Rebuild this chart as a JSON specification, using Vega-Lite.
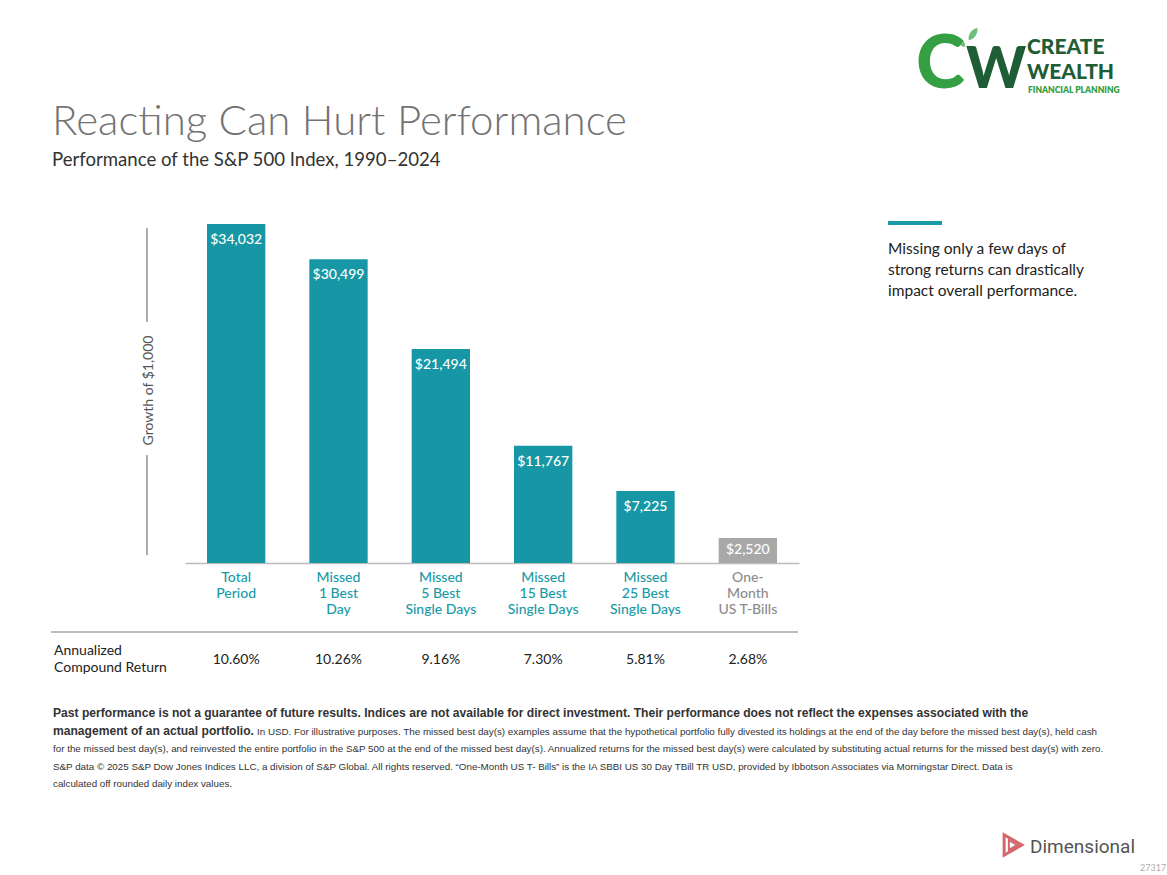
{
  "$schema": "https://vega.github.io/schema/vega-lite/v6.json",
  "autosize": "none",
  "width": 614,
  "height": 353,
  "padding": {"left": 185, "top": 210, "right": 368, "bottom": 312},
  "background": "white",
  "config": {"view": {"stroke": null}, "font": "Lato"},
  "data": {
    "values": [
      {"category": "Total\nPeriod", "value": 34032, "ret": "10.60%", "kind": "stocks"},
      {"category": "Missed\n1 Best\nDay", "value": 30499, "ret": "10.26%", "kind": "stocks"},
      {"category": "Missed\n5 Best\nSingle Days", "value": 21494, "ret": "9.16%", "kind": "stocks"},
      {"category": "Missed\n15 Best\nSingle Days", "value": 11767, "ret": "7.30%", "kind": "stocks"},
      {"category": "Missed\n25 Best\nSingle Days", "value": 7225, "ret": "5.81%", "kind": "stocks"},
      {"category": "One-\nMonth\nUS T-Bills", "value": 2520, "ret": "2.68%", "kind": "tbills"}
    ]
  },
  "layer": [
    {
      "mark": {"type": "bar"},
      "encoding": {
        "x": {
          "field": "category", "type": "nominal", "sort": null,
          "scale": {"paddingInner": 0.43, "paddingOuter": 0.215},
          "axis": {
            "title": null, "labelAngle": 0, "ticks": false,
            "domainColor": "#bdbdbd", "domainWidth": 1.5,
            "labelPadding": 7, "labelFont": "Lato", "labelFontSize": 14,
            "labelFontWeight": 500, "labelLineHeight": 16, "labelBaseline": "top",
            "labelExpr": "split(datum.value, '\\n')",
            "labelColor": {"condition": {"test": "indexof(datum.value, 'T-Bills') >= 0", "value": "#8c8c8c"}, "value": "#1a9aa6"}
          }
        },
        "y": {
          "field": "value", "type": "quantitative",
          "scale": {"domain": [0, 35440], "nice": false},
          "axis": {
            "title": "Growth of $1,000", "labels": false, "ticks": false, "domain": false, "grid": false,
            "titleX": -37, "titleY": 180, "titleBaseline": "middle", "titleAngle": -90,
            "titleFont": "Lato", "titleFontSize": 14, "titleFontWeight": 400, "titleColor": "#555555"
          }
        },
        "color": {
          "condition": {"test": "datum.kind === 'tbills'", "value": "#a8a8a8"},
          "value": "#1797a5"
        }
      }
    },
    {
      "transform": [{"filter": "datum.kind === 'stocks'"}],
      "mark": {"type": "text", "baseline": "middle", "dy": 16, "color": "white", "fontSize": 14, "fontWeight": 500, "font": "Lato"},
      "encoding": {
        "x": {"field": "category", "type": "nominal", "sort": null},
        "y": {"field": "value", "type": "quantitative"},
        "text": {"field": "value", "type": "quantitative", "format": "$,.0f"}
      }
    },
    {
      "transform": [{"filter": "datum.kind === 'tbills'"}],
      "mark": {"type": "text", "baseline": "middle", "dy": 12, "color": "white", "fontSize": 14, "fontWeight": 500, "font": "Lato"},
      "encoding": {
        "x": {"field": "category", "type": "nominal", "sort": null},
        "y": {"field": "value", "type": "quantitative"},
        "text": {"field": "value", "type": "quantitative", "format": "$,.0f"}
      }
    },
    {
      "mark": {"type": "text", "baseline": "middle", "fontSize": 14, "font": "Lato", "color": "#222222"},
      "encoding": {
        "x": {"field": "category", "type": "nominal", "sort": null},
        "y": {"value": 450},
        "text": {"field": "ret", "type": "nominal"}
      }
    },
    {
      "data": {"values": [{}]},
      "mark": {"type": "text", "align": "left", "baseline": "alphabetic", "fontSize": 42, "font": "Lato", "fontWeight": 300, "color": "#737373"},
      "encoding": {"x": {"value": -133}, "y": {"value": -75}, "text": {"value": "Reacting Can Hurt Performance"}}
    },
    {
      "data": {"values": [{}]},
      "mark": {"type": "text", "align": "left", "baseline": "alphabetic", "fontSize": 18.6, "font": "Lato", "fontWeight": 400, "color": "#333333"},
      "encoding": {"x": {"value": -133}, "y": {"value": -44}, "text": {"value": "Performance of the S&P 500 Index, 1990\u20132024"}}
    },
    {
      "data": {"values": [{}]},
      "mark": {"type": "text", "align": "left", "baseline": "alphabetic", "fontSize": 14, "font": "Lato", "color": "#222222", "lineHeight": 17},
      "encoding": {"x": {"value": -131}, "y": {"value": 445}, "text": {"value": ["Annualized", "Compound Return"]}}
    },
    {
      "data": {"values": [{}]},
      "mark": {"type": "rule", "color": "#bdbdbd", "strokeWidth": 2},
      "encoding": {"x": {"value": -134}, "x2": {"value": 613}, "y": {"value": 422}}
    },
    {
      "data": {"values": [{}]},
      "mark": {"type": "rule", "color": "#777777", "strokeWidth": 1.2},
      "encoding": {"x": {"value": -38}, "y": {"value": 18}, "y2": {"value": 112}}
    },
    {
      "data": {"values": [{}]},
      "mark": {"type": "rule", "color": "#777777", "strokeWidth": 1.2},
      "encoding": {"x": {"value": -38}, "y": {"value": 245}, "y2": {"value": 345}}
    },
    {
      "data": {"values": [{}]},
      "mark": {"type": "rule", "color": "#1a9aa6", "strokeWidth": 4},
      "encoding": {"x": {"value": 703}, "x2": {"value": 757}, "y": {"value": 13}}
    },
    {
      "data": {"values": [{}]},
      "mark": {"type": "text", "align": "left", "baseline": "alphabetic", "fontSize": 15.5, "font": "Lato", "color": "#222222", "lineHeight": 21},
      "encoding": {"x": {"value": 703}, "y": {"value": 44}, "text": {"value": ["Missing only a few days of", "strong returns can drastically", "impact overall performance."]}}
    },
    {
      "data": {"values": [{}]},
      "mark": {"type": "text", "align": "left", "baseline": "alphabetic", "fontSize": 12.1, "fontWeight": "bold", "font": "Liberation Sans", "color": "#333333", "lineHeight": 18},
      "encoding": {"x": {"value": -132}, "y": {"value": 507}, "text": {"value": ["Past performance is not a guarantee of future results. Indices are not available for direct investment. Their performance does not reflect the expenses associated with the", "management of an actual portfolio."]}}
    },
    {
      "data": {"values": [{}]},
      "mark": {"type": "text", "align": "left", "baseline": "alphabetic", "fontSize": 9.8, "font": "Liberation Sans", "color": "#333333"},
      "encoding": {"x": {"value": 72}, "y": {"value": 525}, "text": {"value": "In USD. For illustrative purposes. The missed best day(s) examples assume that the hypothetical portfolio fully divested its holdings at the end of the day before the missed best day(s), held cash"}}
    },
    {
      "data": {"values": [{}]},
      "mark": {"type": "text", "align": "left", "baseline": "alphabetic", "fontSize": 9.8, "font": "Liberation Sans", "color": "#333333", "lineHeight": 17.6},
      "encoding": {"x": {"value": -132}, "y": {"value": 542}, "text": {"value": ["for the missed best day(s), and reinvested the entire portfolio in the S&P 500 at the end of the missed best day(s). Annualized returns for the missed best day(s) were calculated by substituting actual returns for the missed best day(s) with zero.", "S&P data \u00a9 2025 S&P Dow Jones Indices LLC, a division of S&P Global. All rights reserved. \u201cOne-Month US T- Bills\u201d is the IA SBBI US 30 Day TBill TR USD, provided by Ibbotson Associates via Morningstar Direct. Data is", "calculated off rounded daily index values."]}}
    },
    {
      "data": {"values": [{}]},
      "mark": {"type": "text", "align": "left", "baseline": "alphabetic", "fontSize": 74, "fontWeight": 900, "font": "Lato", "color": "#34a043"},
      "encoding": {"x": {"value": 731}, "y": {"value": -122}, "text": {"value": "C"}}
    },
    {
      "data": {"values": [{}]},
      "mark": {"type": "text", "align": "left", "baseline": "alphabetic", "fontSize": 57, "fontWeight": 900, "font": "Lato", "color": "#1f5d36"},
      "encoding": {"x": {"value": 781}, "y": {"value": -122}, "text": {"value": "W"}}
    },
    {
      "data": {"values": [{}]},
      "mark": {"type": "point", "filled": true, "color": "#34a043", "shape": "M0,-1C0.55,-0.5,0.55,0.5,0,1C-0.55,0.5,-0.55,-0.5,0,-1Z", "size": 220, "angle": 35},
      "encoding": {"x": {"value": 788}, "y": {"value": -176}}
    },
    {
      "data": {"values": [{}]},
      "mark": {"type": "point", "filled": true, "color": "#34a043", "shape": "M0,-1C0.55,-0.5,0.55,0.5,0,1C-0.55,0.5,-0.55,-0.5,0,-1Z", "size": 160, "angle": -40},
      "encoding": {"x": {"value": 776}, "y": {"value": -168}}
    },
    {
      "data": {"values": [{}]},
      "mark": {"type": "text", "align": "left", "baseline": "alphabetic", "fontSize": 21, "fontWeight": 900, "font": "Lato", "color": "#1f5d36"},
      "encoding": {"x": {"value": 842}, "y": {"value": -156}, "text": {"value": "CREATE"}}
    },
    {
      "data": {"values": [{}]},
      "mark": {"type": "text", "align": "left", "baseline": "alphabetic", "fontSize": 21, "fontWeight": 900, "font": "Lato", "color": "#1f5d36"},
      "encoding": {"x": {"value": 842}, "y": {"value": -131}, "text": {"value": "WEALTH"}}
    },
    {
      "data": {"values": [{}]},
      "mark": {"type": "text", "align": "left", "baseline": "alphabetic", "fontSize": 8.5, "fontWeight": 800, "font": "Lato", "color": "#34a043"},
      "encoding": {"x": {"value": 843}, "y": {"value": -117}, "text": {"value": "FINANCIAL PLANNING"}}
    },
    {
      "data": {"values": [{}]},
      "mark": {"type": "point", "filled": false, "color": "#c1272d", "shape": "triangle-right", "size": 420, "strokeWidth": 3},
      "encoding": {"x": {"value": 828}, "y": {"value": 635}}
    },
    {
      "data": {"values": [{}]},
      "mark": {"type": "point", "filled": false, "color": "#c1272d", "shape": "triangle-right", "size": 90, "strokeWidth": 2},
      "encoding": {"x": {"value": 828}, "y": {"value": 635}}
    },
    {
      "data": {"values": [{}]},
      "mark": {"type": "text", "align": "left", "baseline": "alphabetic", "fontSize": 19, "fontWeight": 400, "font": "Roboto", "color": "#555555"},
      "encoding": {"x": {"value": 845}, "y": {"value": 643}, "text": {"value": "Dimensional"}}
    },
    {
      "data": {"values": [{}]},
      "mark": {"type": "text", "align": "left", "baseline": "alphabetic", "fontSize": 9, "font": "Lato", "color": "#aaaaaa"},
      "encoding": {"x": {"value": 955}, "y": {"value": 661}, "text": {"value": "27317"}}
    }
  ]
}
